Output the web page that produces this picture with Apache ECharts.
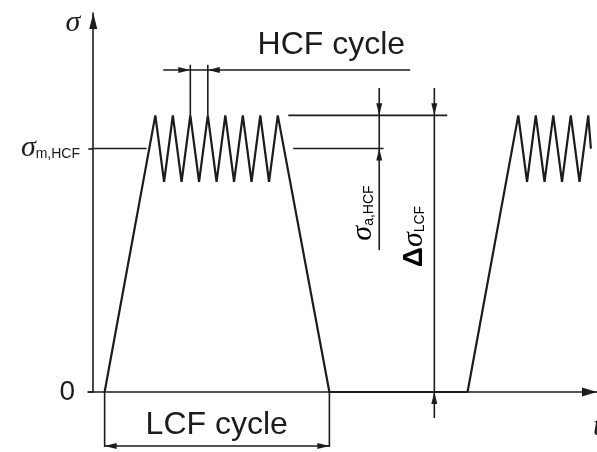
<!DOCTYPE html>
<html>
<head>
<meta charset="utf-8">
<script src="https://cdn.jsdelivr.net/npm/echarts@6/dist/echarts.min.js"></script>
<style>
  html, body { margin: 0; padding: 0; background: #ffffff; }
  #chart { width: 597px; height: 452px; }
</style>
</head>
<body>
<div id="chart"></div>
<script>
// ---- Load history (time in HCF periods, stress in arbitrary units) ----
// One LCF block: ramp up, 8 HCF peaks around the mean, ramp down, dwell at zero,
// then the next block starts.
const waveTime = [0.65, 3.55, 4.05, 4.55, 5.05, 5.55, 6.05, 6.55, 7.05, 7.55, 8.05,
                  8.55, 9.05, 9.55, 10.05, 10.55, 13.5, 21.4, 24.3, 24.8, 25.3, 25.8,
                  26.3, 26.8, 27.3, 27.8, 28.3, 28.45];
const waveStress = [0, 100, 76, 100, 76, 100, 76, 100, 76, 100, 76,
                    100, 76, 100, 76, 100, 0, 0, 100, 76, 100, 76,
                    100, 76, 100, 76, 100, 88];

// ---- Stress axis ticks ----
const stressTicks = [0, 88];
const stressTickLabels = ['{z|0}', '{s|σ}{sub|m,HCF}'];

// ---- Level extension lines [t1, s1, t2, s2] ----
const levelLines = [
  [0, 88, 3.05, 88],          // mean stress, left of first block
  [11.43, 88, 16.6, 88],      // mean stress, right of first block
  [11.15, 100, 20.24, 100]    // peak stress
];

// ---- Dimension lines [t1, s1, t2, s2] ----
const dimensionLines = [
  [4.0, 116.4, 18.12, 116.4],   // HCF cycle
  [5.55, 118.3, 5.55, 100],
  [6.55, 118.3, 6.55, 100],
  [16.35, 109.9, 16.35, 51.3],  // HCF amplitude
  [19.5, 109.9, 19.5, -9.4],    // LCF range
  [0.65, 0, 0.65, -19.9],       // LCF cycle
  [13.5, 0, 13.5, -19.9],
  [0.65, -19.5, 13.5, -19.5]
];

// ---- Arrow heads [t, s, dirT, dirS] (tip point and pointing direction) ----
const arrowHeads = [
  [5.55, 116.4, 1, 0], [6.55, 116.4, -1, 0],
  [16.35, 100, 0, -1], [16.35, 88, 0, 1],
  [19.5, 100, 0, -1], [19.5, 0, 0, 1],
  [0.65, -19.5, -1, 0], [13.5, -19.5, 1, 0]
];

// ---- Text annotations ----
const cycleLabels = ['HCF cycle', 'LCF cycle'];
const cycleLabelAnchors = [[13.61, 125.4], [7.06, -11.9]];

const symbolLabels = ['{s|σ}{sub|a,HCF}', '{d|Δ}{s|σ}{sub|LCF}'];
const symbolLabelAnchors = [[15.44, 64.7], [18.35, 56.2]];

const ink = '#1c1c1c';
const sans = '"Liberation Sans", Arial, sans-serif';
const serif = '"Liberation Serif", "Times New Roman", serif';

const mathRich = {
  z:   { fontFamily: sans, fontSize: 28, color: ink, padding: [0, 5, 0, 0] },
  s:   { fontFamily: serif, fontStyle: 'italic', fontSize: 30, color: ink },
  d:   { fontFamily: sans, fontWeight: 'bold', fontSize: 28, color: ink },
  sub: { fontFamily: sans, fontSize: 14, color: ink, padding: [12, 0, 0, 0] }
};

function renderSegment(params, api) {
  const p1 = api.coord([api.value(0), api.value(1)]);
  const p2 = api.coord([api.value(2), api.value(3)]);
  return {
    type: 'line',
    shape: { x1: p1[0], y1: p1[1], x2: p2[0], y2: p2[1] },
    style: { stroke: ink, lineWidth: 1.6 }
  };
}

function renderArrow(params, api) {
  const t = api.value(0), s = api.value(1), dt = api.value(2), ds = api.value(3);
  const tip = api.coord([t, s]);
  const back = api.coord([t - dt, s - ds]);
  let ux = tip[0] - back[0], uy = tip[1] - back[1];
  const n = Math.hypot(ux, uy) || 1;
  ux /= n; uy /= n;
  const len = 12, half = 3;
  const bx = tip[0] - ux * len, by = tip[1] - uy * len;
  return {
    type: 'polygon',
    shape: { points: [tip, [bx - uy * half, by + ux * half], [bx + uy * half, by - ux * half]] },
    style: { fill: ink }
  };
}

function renderCycleLabel(params, api) {
  const p = api.coord([api.value(0), api.value(1)]);
  return {
    type: 'text',
    x: p[0], y: p[1],
    style: {
      text: cycleLabels[params.dataIndex],
      fontFamily: sans, fontSize: 32, fill: ink,
      align: 'center', verticalAlign: 'middle'
    }
  };
}

function renderSymbolLabel(params, api) {
  const p = api.coord([api.value(0), api.value(1)]);
  return {
    type: 'text',
    x: p[0], y: p[1],
    rotation: Math.PI / 2,
    style: {
      text: symbolLabels[params.dataIndex],
      rich: mathRich,
      align: 'center', verticalAlign: 'middle'
    }
  };
}

const chart = echarts.init(document.getElementById('chart'), null, { renderer: 'canvas' });

chart.setOption({
  animation: false,
  backgroundColor: '#ffffff',
  grid: {
    left: 88, right: 0, top: 13, bottom: 60,
    containLabel: false,
    outerBoundsMode: 'none'
  },
  xAxis: {
    type: 'value',
    min: -0.3,
    max: 28.8,
    name: 't',
    nameLocation: 'end',
    nameGap: -4,
    nameTextStyle: {
      fontFamily: serif, fontStyle: 'italic', fontSize: 30, color: ink,
      align: 'left', verticalAlign: 'top', padding: [20, 0, 0, 0]
    },
    axisLine: {
      onZero: true,
      symbol: ['none', 'triangle'],
      symbolSize: [9, 15],
      symbolOffset: [0, -7.5],
      lineStyle: { color: ink, width: 1.6 }
    },
    axisTick: { show: false },
    axisLabel: { show: false },
    splitLine: { show: false }
  },
  yAxis: {
    type: 'value',
    min: 0,
    max: 137,
    name: 'σ',
    nameLocation: 'end',
    nameGap: -10,
    nameTextStyle: {
      fontFamily: serif, fontStyle: 'italic', fontSize: 30, color: ink,
      align: 'right', verticalAlign: 'middle', padding: [0, 13, 0, 0]
    },
    axisLine: {
      onZero: true,
      symbol: ['none', 'triangle'],
      symbolSize: [8, 16],
      symbolOffset: [0, -8],
      lineStyle: { color: ink, width: 1.6 }
    },
    axisTick: {
      show: true, length: 5, inside: false,
      customValues: stressTicks,
      lineStyle: { color: ink, width: 1.6 }
    },
    axisLabel: {
      customValues: stressTicks,
      margin: 8,
      formatter: function (v) {
        const i = stressTicks.indexOf(v);
        return i >= 0 ? stressTickLabels[i] : '';
      },
      rich: mathRich
    },
    splitLine: { show: false }
  },
  series: [
    {
      name: 'load',
      type: 'line',
      data: waveTime.map((t, i) => [t, waveStress[i]]),
      symbol: 'none',
      lineStyle: { color: ink, width: 2.2 },
      clip: false,
      z: 5
    },
    {
      name: 'levels',
      type: 'custom',
      renderItem: renderSegment,
      data: levelLines,
      silent: true
    },
    {
      name: 'dimensions',
      type: 'custom',
      renderItem: renderSegment,
      data: dimensionLines,
      silent: true
    },
    {
      name: 'arrows',
      type: 'custom',
      renderItem: renderArrow,
      data: arrowHeads,
      silent: true
    },
    {
      name: 'cycle labels',
      type: 'custom',
      renderItem: renderCycleLabel,
      data: cycleLabelAnchors,
      silent: true
    },
    {
      name: 'symbol labels',
      type: 'custom',
      renderItem: renderSymbolLabel,
      data: symbolLabelAnchors,
      silent: true
    }
  ]
});
</script>
</body>
</html>
